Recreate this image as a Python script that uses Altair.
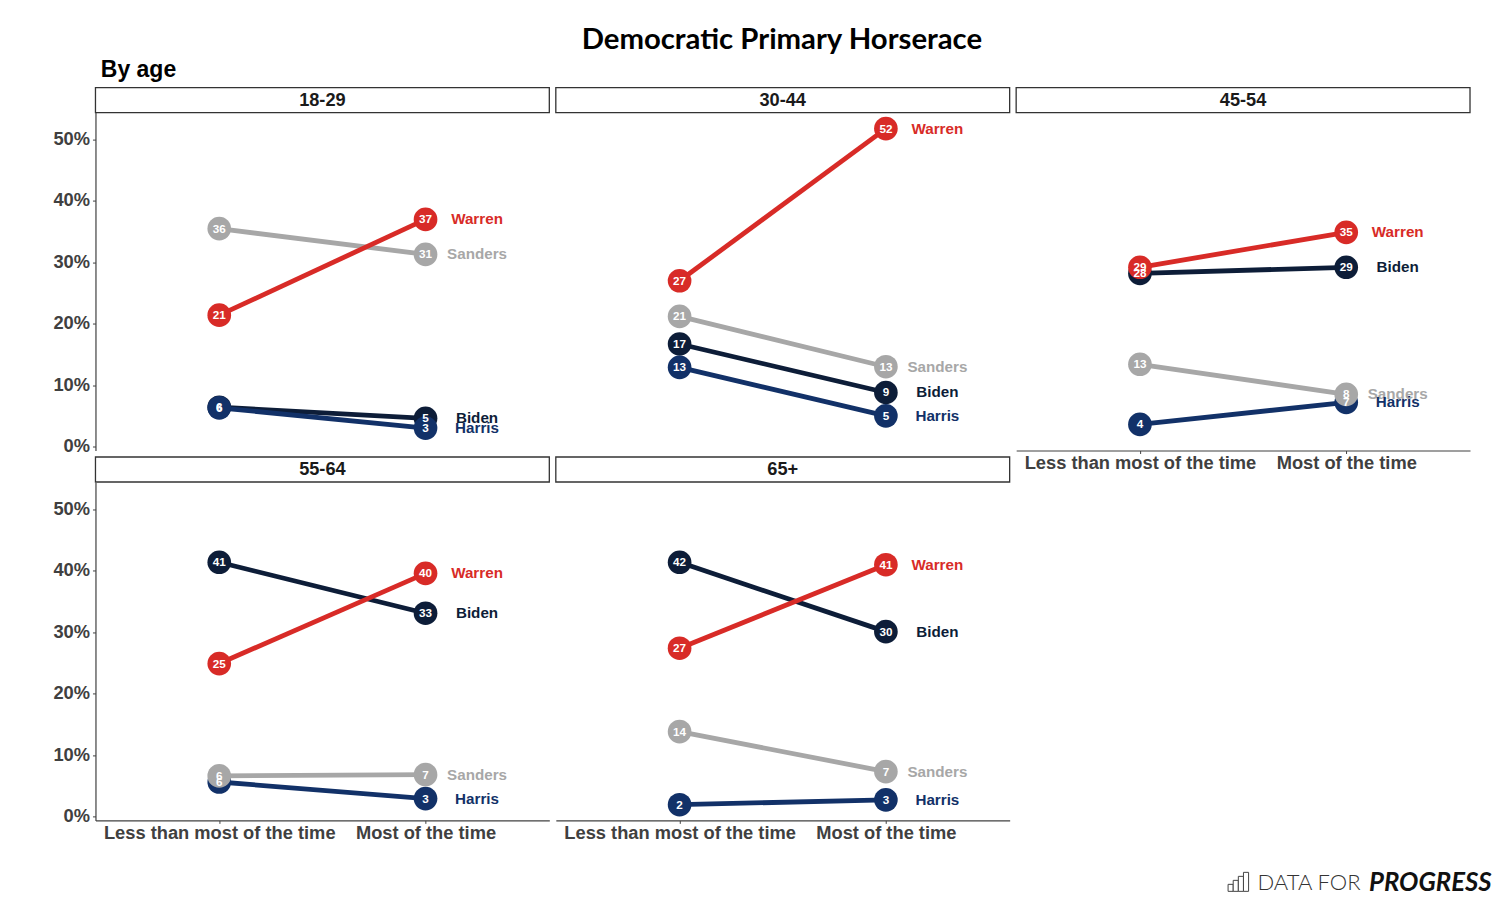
import altair as alt
import pandas as pd

ages = ["18-29", "30-44", "45-54", "55-64", "65+"]
when = ["Less than most of the time", "Most of the time"]
candidates = ["Biden", "Harris", "Sanders", "Warren"]
name_order = ["Biden", "Sanders", "Harris", "Warren"]
colors = ["#0D1D38", "#123168", "#A7A7A7", "#D82B27"]

# Candidate order: Biden, Harris, Sanders, Warren — (less, most)
v_18 = [(6.4, 4.6), (6.3, 3.0), (35.5, 31.3), (21.4, 37.0)]
v_30 = [(16.7, 8.8), (12.9, 5.0), (21.2, 13.0), (27.0, 51.8)]
v_45 = [(28.2, 29.2), (3.6, 7.2), (13.4, 8.5), (29.2, 34.9)]
v_55 = [(41.4, 33.1), (5.6, 2.9), (6.6, 6.8), (24.9, 39.6)]
v_65 = [(41.4, 30.1), (1.9, 2.7), (13.8, 7.3), (27.4, 41.0)]
l_18 = [(6, 5), (6, 3), (36, 31), (21, 37)]
l_30 = [(17, 9), (13, 5), (21, 13), (27, 52)]
l_45 = [(28, 29), (4, 7), (13, 8), (29, 35)]
l_55 = [(41, 33), (6, 3), (6, 7), (25, 40)]
l_65 = [(42, 30), (2, 3), (14, 7), (27, 41)]
values = [v_18, v_30, v_45, v_55, v_65]
labels = [l_18, l_30, l_45, l_55, l_65]

y_ticks = [0, 10, 20, 30, 40, 50]
logo_bar_heights = [7, 11, 15, 19]

PW, PH, HH, HH2 = 454, 338, 31, 31.5
FONT = "Liberation Sans"
AXC = "#404040"


def panel_df(idx):
    rows = []
    for c, v, l in zip(candidates, values[idx], labels[idx]):
        for j in range(2):
            rows.append({"Candidate": c, "when": when[j], "value": v[j], "label": str(l[j])})
    return pd.DataFrame(rows)


color = alt.Color("Candidate:N", scale=alt.Scale(domain=candidates, range=colors), legend=None)


def panel(idx, show_y, show_x):
    df = panel_df(idx)
    xaxis = alt.Axis(
        title=None, labelAngle=0, labelFont=FONT, labelFontSize=18.3, labelFontWeight="bold",
        labelColor=AXC, domainColor=AXC, tickColor=AXC, tickSize=3, domainWidth=1.2,
        labelPadding=1, labelLimit=400, labelOverlap=False, grid=False,
    ) if show_x else None
    yaxis = alt.Axis(
        title=None, values=y_ticks, labelExpr="datum.value + '%'", labelFont=FONT,
        labelFontSize=18.3, labelFontWeight="bold", labelColor=AXC, domainColor=AXC,
        tickColor=AXC, tickSize=3, domainWidth=1.2, labelPadding=3, grid=False,
    ) if show_y else None
    x = alt.X("when:N", sort=when, axis=xaxis,
              scale=alt.Scale(type="point", padding=0.6, domain=when))
    y = alt.Y("value:Q", axis=yaxis, scale=alt.Scale(domain=[-0.65, 54.4], nice=False, zero=False))
    base = alt.Chart(df).encode(x=x, y=y)
    line = base.mark_line(strokeWidth=4.8).encode(color=color, detail="Candidate:N")
    pts = base.mark_circle(size=560, opacity=1).encode(color=color)
    nums = base.mark_text(font=FONT, fontSize=11.7, fontWeight="bold", color="white",
                          baseline="middle", align="center").encode(text="label:N")
    names_df = (df[df["when"] == when[1]]
                .set_index("Candidate").loc[name_order].reset_index())
    names = alt.Chart(names_df).mark_text(
        font=FONT, fontSize=15.2, fontWeight="bold", dx=51.5, align="center", baseline="middle"
    ).encode(x=x, y=y, text="Candidate:N", color=color)
    return alt.layer(line, pts, nums, names).properties(width=PW, height=PH)


def header(idx, hh=HH, title=None):
    d = pd.DataFrame({"age": [ages[idx]]})
    box = alt.Chart(d).mark_rect(fill="white", stroke="#333333", strokeWidth=1.3).encode(
        x=alt.value(0), x2=alt.value(PW), y=alt.value(hh - 25), y2=alt.value(hh))
    txt = alt.Chart(d).mark_text(font=FONT, fontSize=18.2, fontWeight="bold", color="#1a1a1a",
                                 baseline="middle").encode(
        x=alt.value(PW / 2), y=alt.value(hh - 11.5), text="age:N")
    c = alt.layer(box, txt).properties(width=PW, height=hh)
    if title:
        c = c.properties(title=alt.TitleParams(title, anchor="start", font=FONT, fontSize=23,
                                               fontWeight="bold", color="black", dx=6, offset=0))
    return c


def blank(h):
    return alt.Chart(pd.DataFrame({"a": [""]})).mark_text().encode(
        text="a:N").properties(width=PW, height=h)


def logo():
    bars = pd.DataFrame({"i": list(range(4)), "h": logo_bar_heights})
    bars["i2"] = bars["i"] + 1
    b = alt.Chart(bars).mark_rect(fill="white", stroke="#444444", strokeWidth=1).encode(
        x=alt.X("i:Q", axis=None, scale=alt.Scale(domain=[0, 4], range=[212, 232.5])),
        x2="i2:Q",
        y=alt.Y("h:Q", axis=None, scale=alt.Scale(domain=[0, 19], range=[71, 52])),
        y2=alt.datum(0),
    )
    d = pd.DataFrame({"a": ["DATA FOR"], "b": ["PROGRESS"]})
    t1 = alt.Chart(d).mark_text(font="Lato", fontSize=22, fontWeight=300, color="#333333",
                                align="right", baseline="middle").encode(
        x=alt.value(344.5), y=alt.value(63), text="a:N")
    t2 = alt.Chart(d).mark_text(font="Lato", fontSize=25.7, fontWeight="bold", fontStyle="italic",
                                color="#111111", align="left", baseline="middle").encode(
        x=alt.value(353), y=alt.value(63), text="b:N")
    return alt.layer(b, t1, t2).properties(width=PW, height=70)


cells = [
    header(0, HH, "By age"), header(1), header(2),
    panel(0, True, False), panel(1, False, False), panel(2, False, True),
    header(3, HH2), header(4, HH2), blank(HH2),
    panel(3, True, True), panel(4, False, True), blank(PH),
    blank(70), blank(70), logo(),
]

chart = alt.concat(*cells, columns=3, spacing={"row": 0, "column": 6.5}, bounds="flush").properties(
    title=alt.TitleParams("Democratic Primary Horserace", anchor="middle", font="Lato",
                          fontSize=29.3, fontWeight="bold", color="black", offset=3, dx=9.7),
    padding={"left": 44.5, "top": 17.5, "right": 0, "bottom": 0},
    background="white",
).configure_view(stroke=None)

chart.save("out.html", embed_options={"renderer": "svg", "actions": False})
